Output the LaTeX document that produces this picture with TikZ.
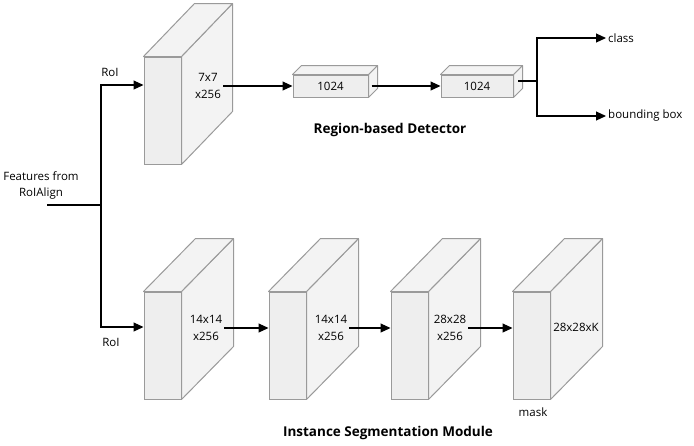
\documentclass[tikz,border=0pt]{standalone}
\usepackage{fontspec}
\setmainfont{Open Sans}
\usetikzlibrary{arrows.meta}
\definecolor{edge}{HTML}{9A9A9A}
\definecolor{front}{HTML}{EEEEEE}
\definecolor{side}{HTML}{F3F3F3}
\newcommand\mycuboid[7]{% name, cx, cy, w, h, dx, dy
  \node[faceA, minimum width=#4pt, minimum height=#5pt] (#1) at (#2,#3) {};
  \draw[faceB] (#1.north east) -- ++(#6,-#7) -- ([shift={(#6,-#7)}]#1.south east) -- (#1.south east) -- cycle;
  \draw[faceB] (#1.north west) -- ++(#6,-#7) -- ([shift={(#6,-#7)}]#1.north east) -- (#1.north east) -- cycle;
}
\begin{document}
\begin{tikzpicture}[x=1pt,y=-1pt,
  faceA/.style={draw=edge, fill=front, line width=1pt, inner sep=0pt},
  faceB/.style={draw=edge, fill=side, line width=1pt, line join=round},
  conn/.style={line width=1.1pt, -{Triangle[length=10pt,width=9pt]}},
  wire/.style={line width=1.1pt},
  lbl/.style={font=\fontsize{11.5}{16.5}\selectfont, align=center, inner sep=2pt},
  ttl/.style={font=\bfseries\fontsize{13.5}{15}\selectfont, inner sep=0pt}]
\useasboundingbox (0,0) rectangle (694,445);
% top branch
\mycuboid{t1}{162.5}{110.5}{37}{107}{51}{53}
\mycuboid{b1}{330.5}{86}{75}{22}{9}{9}
\mycuboid{b2}{477}{86}{72}{22}{9}{9}
\node[lbl] (t1l) at (208,86) {7x7\\x256};
\node[lbl, inner sep=0pt] (b1l) at (330.5,86) {1024};
\node[lbl, inner sep=0pt] (b2l) at (477,86) {1024};
\draw[conn] (t1l.east) -- (b1.west);
\draw[conn] ([xshift=3pt]b1.east) -- (b2.west);
\coordinate (b2o) at (518,81);
\coordinate (jr) at (537,81);
\node[lbl, anchor=west] (cls) at (606,38) {class};
\node[lbl, anchor=west] (bbox) at (606,116) {bounding box};
\draw[wire] (b2o) -- (jr);
\draw[conn] (jr) |- (cls.west);
\draw[conn] (jr) |- (bbox.west);
\node[ttl] (rbd) at (390,130) {Region-based Detector};
% bottom branch
\mycuboid{m1}{162.5}{345.5}{37}{107}{52}{53}
\mycuboid{m2}{287.5}{345.5}{37}{107}{52}{53}
\mycuboid{m3}{409.5}{345.5}{37}{107}{52}{53}
\mycuboid{m4}{531.5}{345.5}{37}{107}{52}{53}
\node[lbl] (m1l) at (206,328) {14x14\\x256};
\node[lbl] (m2l) at (331,328) {14x14\\x256};
\node[lbl] (m3l) at (450,328) {28x28\\x256};
\node[lbl] (m4l) at (576,327) {28x28xK};
\draw[conn] (m1l.east) -- (m1l.east -| m2.west);
\draw[conn] (m2l.east) -- (m2l.east -| m3.west);
\draw[conn] (m3l.east) -- (m3l.east -| m4.west);
\node[lbl] (mask) at (533,412) {mask};
\node[ttl] (isg) at (388,433) {Instance Segmentation Module};
% input
\node[lbl, inner sep=0pt, font=\fontsize{11.5}{16}\selectfont] (feat) at (41,185) {Features from\\RoIAlign};
\coordinate (fin) at (47,205);
\coordinate (jl) at (101,205);
\draw[wire] (fin) -- (jl);
\draw[conn] (jl) |- ([yshift=25.5pt]t1.west);
\draw[conn] (jl) |- ([yshift=18.5pt]m1.west);
\node[lbl] (roi1) at (110,72) {RoI};
\node[lbl] (roi2) at (111,342) {RoI};
\end{tikzpicture}
\end{document}
